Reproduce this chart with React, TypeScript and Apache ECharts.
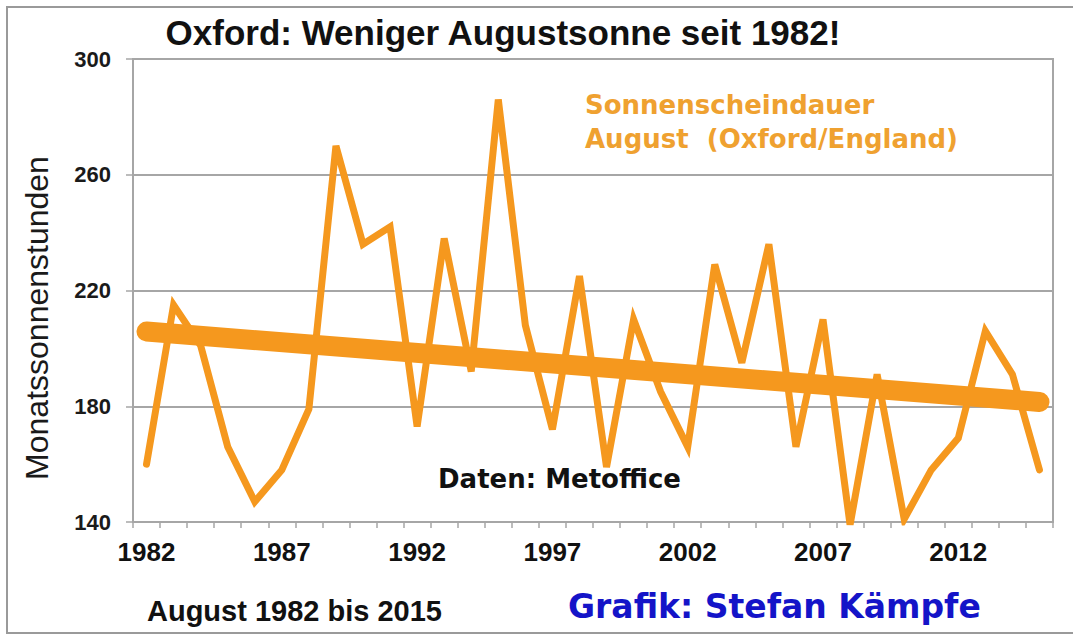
import React, { useEffect, useRef } from "react";
import * as echarts from "echarts";

const years = [
  "1982", "1983", "1984", "1985", "1986", "1987", "1988", "1989", "1990", "1991",
  "1992", "1993", "1994", "1995", "1996", "1997", "1998", "1999", "2000", "2001",
  "2002", "2003", "2004", "2005", "2006", "2007", "2008", "2009", "2010", "2011",
  "2012", "2013", "2014", "2015",
];

const sunshineHours = [
  160, 215, 201, 166, 147, 158, 179, 270, 236, 242,
  173, 238, 192, 286, 208, 172, 225, 159, 210, 185,
  166, 229, 195, 236, 166, 210, 139, 191, 141, 158,
  169, 206, 191, 158,
];

const trendStart = 205.8;
const trendEnd = 181.5;

const yTicks = { min: 140, max: 300, step: 40 };

const titleText = "Oxford: Weniger Augustsonne seit 1982!";
const seriesLabel1 = "Sonnenscheindauer";
const seriesLabel2 = "August  (Oxford/England)";
const sourceText = "Daten: Metoffice";
const periodText = "August 1982 bis 2015";
const authorText = "Grafik: Stefan Kämpfe";
const yAxisName = "Monatssonnenstunden";

const ORANGE = "#F5981E";
const ORANGE_TEXT = "#EFA130";
const GRAY = "#a6a6a6";

export default function App() {
  const ref = useRef<HTMLDivElement>(null);

  useEffect(() => {
    if (!ref.current) return;
    const chart = echarts.init(ref.current, null, { renderer: "svg" });

    const trendData = years.map((_, i) =>
      i === 0 ? trendStart : i === years.length - 1 ? trendEnd : null
    );

    chart.setOption({
      animation: false,
      backgroundColor: "#ffffff",
      grid: {
        left: 133,
        right: 20,
        top: 59,
        bottom: 115,
        show: true,
        borderColor: GRAY,
        borderWidth: 2,
      },
      xAxis: {
        type: "category",
        data: years,
        boundaryGap: true,
        axisLine: { show: true, lineStyle: { color: GRAY, width: 2 } },
        axisTick: {
          show: true,
          interval: 0,
          alignWithLabel: false,
          length: 6,
          lineStyle: { color: GRAY, width: 1.5 },
        },
        axisLabel: {
          interval: 4,
          margin: 17,
          color: "#111111",
          fontFamily: "Liberation Sans, Arial, sans-serif",
          fontWeight: "bold",
          fontSize: 26,
        },
        splitLine: { show: false },
      },
      yAxis: {
        type: "value",
        min: yTicks.min,
        max: yTicks.max,
        interval: yTicks.step,
        axisLine: { show: true, lineStyle: { color: GRAY, width: 2 } },
        axisTick: {
          show: true,
          inside: false,
          length: 7,
          lineStyle: { color: GRAY, width: 1.5 },
        },
        axisLabel: {
          margin: 22,
          color: "#1a1a1a",
          fontFamily: "Liberation Sans, Arial, sans-serif",
          fontWeight: "bold",
          fontSize: 22,
        },
        splitLine: { show: true, lineStyle: { color: GRAY, width: 2 } },
      },
      series: [
        {
          type: "line",
          name: "Sonnenscheindauer August",
          data: sunshineHours,
          symbol: "none",
          lineStyle: { color: ORANGE, width: 7, join: "miter", cap: "round" },
          z: 2,
        },
        {
          type: "line",
          name: "Trend",
          data: trendData,
          connectNulls: true,
          symbol: "none",
          lineStyle: { color: ORANGE, width: 20, cap: "round" },
          z: 3,
        },
      ],
      graphic: [
        {
          type: "rect",
          shape: { x: 7, y: 7, width: 1080, height: 626 },
          style: { fill: "none", stroke: "#9a9a9a", lineWidth: 2 },
          silent: true,
          z: -10,
        },
        {
          type: "text",
          x: 503,
          y: 32,
          style: {
            text: titleText,
            fill: "#111111",
            fontFamily: "Liberation Sans, Arial, sans-serif",
            fontWeight: "bold",
            fontSize: 35,
            align: "center",
            verticalAlign: "middle",
          },
        },
        {
          type: "text",
          x: 37,
          y: 318,
          rotation: Math.PI / 2,
          style: {
            text: yAxisName,
            fill: "#1a1a1a",
            fontFamily: "Liberation Sans, Arial, sans-serif",
            fontSize: 32,
            align: "center",
            verticalAlign: "middle",
          },
        },
        {
          type: "text",
          x: 585,
          y: 105,
          style: {
            text: seriesLabel1,
            fill: ORANGE_TEXT,
            fontFamily: "DejaVu Sans, sans-serif",
            fontWeight: "bold",
            fontSize: 26,
            align: "left",
            verticalAlign: "middle",
          },
        },
        {
          type: "text",
          x: 585,
          y: 139,
          style: {
            text: seriesLabel2,
            fill: ORANGE_TEXT,
            fontFamily: "DejaVu Sans, sans-serif",
            fontWeight: "bold",
            fontSize: 26,
            align: "left",
            verticalAlign: "middle",
          },
        },
        {
          type: "text",
          x: 438,
          y: 479,
          style: {
            text: sourceText,
            fill: "#111111",
            fontFamily: "DejaVu Sans, sans-serif",
            fontWeight: "bold",
            fontSize: 26,
            align: "left",
            verticalAlign: "middle",
          },
        },
        {
          type: "text",
          x: 147,
          y: 611,
          style: {
            text: periodText,
            fill: "#111111",
            fontFamily: "Liberation Sans, Arial, sans-serif",
            fontWeight: "bold",
            fontSize: 29,
            align: "left",
            verticalAlign: "middle",
          },
        },
        {
          type: "text",
          x: 568,
          y: 606,
          style: {
            text: authorText,
            fill: "#1414c8",
            fontFamily: "DejaVu Sans, sans-serif",
            fontWeight: "bold",
            fontSize: 33,
            align: "left",
            verticalAlign: "middle",
          },
        },
      ],
    });

    return () => chart.dispose();
  }, []);

  return (
    <div
      ref={ref}
      style={{ position: "fixed", left: 0, top: 0, width: 1073, height: 637 }}
    />
  );
}
